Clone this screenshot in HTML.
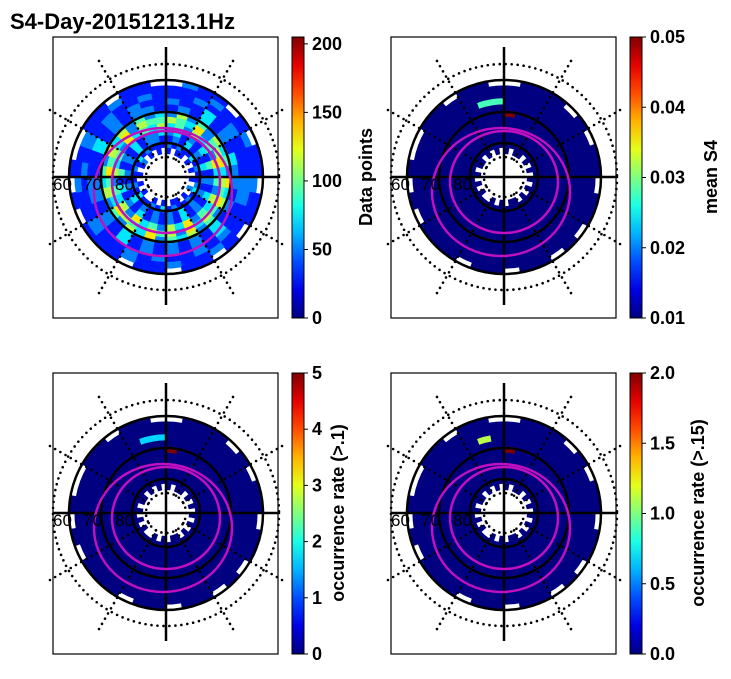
<!DOCTYPE html>
<html><head><meta charset="utf-8">
<style>
body{margin:0;background:#fff;width:731px;height:674px;overflow:hidden;font-family:"Liberation Sans",sans-serif}
svg text{font-family:"Liberation Sans",sans-serif}
</style></head>
<body>
<svg id="fig" width="731" height="674" xmlns="http://www.w3.org/2000/svg">
<text x="10" y="29" font-size="22" font-weight="bold">S4-Day-20151213.1Hz</text>
</svg>
<script>
// ring data for panel 1 (index 0 = innermost ring), 36 sectors clockwise from top; digit = colour level 0-9, '.' = no data
const ringsDataPoints = [
"1.11.1.1.1.2.1.11.1.1..1.1.1.12.1.1.",
"212113121123121121312113121121312111",
"121312131212121312121213121212131221",
"231213141213121312121312131412131223",
"342534263425342635243625342534263435",
"543624563546453625463456354645362544",
"252425342635242534263524253426352423",
"121312132212131212121312122113121221",
"211312111221131212121312122113121211",
"112112111221121211212112111212121121",
"111211211211112112112112112112112111",
".211.1.11.11.1.11.11.111.1.1..11.11."
];
// highlight cells for panels 2-4: [ring, sector, level]
const hlMeanS4 = [[8,34,4],[8,35,4],[6,0,9]];
const hlOcc1 = [[8,34,3],[8,35,3],[6,0,9]];
const hlOcc15 = [[8,34,5],[6,0,9]];
const cbTicks1 = [0,50,100,150,200], cbMax1 = 205;
const cbTicks2 = ["0.01","0.02","0.03","0.04","0.05"];
const cbTicks3 = ["0","1","2","3","4","5"];
const cbTicks4 = ["0.0","0.5","1.0","1.5","2.0"];

const NS="http://www.w3.org/2000/svg";
const svg=document.getElementById('fig');
function mk(t,a,p){const e=document.createElementNS(NS,t);for(const k in a)e.setAttribute(k,a[k]);(p||svg).appendChild(e);return e;}
function jet(v){v=Math.max(0,Math.min(1,v));
 const r=Math.min(1,Math.max(0,Math.min(4*v-1.5,-4*v+4.5)));
 const g=Math.min(1,Math.max(0,Math.min(4*v-0.5,-4*v+3.5)));
 const b=Math.min(1,Math.max(0,Math.min(4*v+0.5,-4*v+2.5)));
 return `rgb(${Math.round(r*255)},${Math.round(g*255)},${Math.round(b*255)})`;}
const R0=23, RW=6.2;
function sectorPath(cx,cy,r1,r2,a1,a2){
 const p=(r,a)=>[cx+r*Math.sin(a),cy-r*Math.cos(a)];
 const [x1,y1]=p(r1,a1),[x2,y2]=p(r2,a1),[x3,y3]=p(r2,a2),[x4,y4]=p(r1,a2);
 return `M${x1},${y1}L${x2},${y2}A${r2},${r2} 0 0 1 ${x3},${y3}L${x4},${y4}A${r1},${r1} 0 0 0 ${x1},${y1}Z`;}
const DOT={fill:'none',stroke:'#000','stroke-width':2.6,'stroke-dasharray':'0 6','stroke-linecap':'round'};
function panel(px,py,mode,hl,name,cbx,ticks,tickPos,label,labelX){
 const g=mk('g',{});
 
 
 const cx=px+113, cy=py+140;
 const hm=mk('g',{},g);
 
 
 const hmap={};(hl||[]).forEach(h=>hmap[h[0]+'_'+h[1]]=h[2]);
 ringsDataPoints.forEach((s,ri)=>{
  for(let si=0;si<36;si++){
   const c=s.charAt(si); if(c===''||c==='.')continue;
   let lvl=mode?0:+c; const k=ri+'_'+si; if(mode&&k in hmap)lvl=hmap[k];
   const a1=si*Math.PI/18,a2=(si+1)*Math.PI/18+0.01;
   const col=mode?(lvl===0?jet(0):jet(lvl/9)):jet(0.05+lvl*0.1);
   const e=mk('path',{d:sectorPath(cx,cy,R0+ri*RW,R0+(ri+1)*RW+0.4,a1,a2),fill:col},hm);
   
   
  }});
 [20,113].forEach(r=>mk('circle',Object.assign({cx,cy,r},DOT),g));
 for(let i=0;i<12;i++){const a=i*Math.PI/6;if(i%3===0)continue;
  mk('line',Object.assign({x1:cx+20*Math.sin(a),y1:cy-20*Math.cos(a),x2:cx+138*Math.sin(a),y2:cy-138*Math.cos(a)},DOT),g);}
 [34,65,97].forEach(r=>mk('circle',{cx,cy,r,fill:'none',stroke:'#000','stroke-width':2.5},g));
 mk('line',{x1:cx,y1:py+10,x2:cx,y2:py+268,stroke:'#000','stroke-width':2.5},g);
 mk('line',{x1:px,y1:cy,x2:px+225,y2:cy,stroke:'#000','stroke-width':2.5},g);
 mk('ellipse',{cx:cx-3,cy:cy+15,rx:69,ry:64,fill:'none',stroke:'#c010c0','stroke-width':2.5},g);
 mk('ellipse',{cx:cx,cy:cy+5,rx:54,ry:51,fill:'none',stroke:'#c010c0','stroke-width':2.5},g);
 [['60',px],['70',px+30],['80',px+62]].forEach(t=>{const e=mk('text',{x:t[1],y:cy+13,'font-size':17},g);e.textContent=t[0];});
 mk('rect',{x:px,y:py,width:225,height:281,fill:'none',stroke:'#000','stroke-width':1.2},g);
 const defsId='grad'+name;
 const d=mk('defs',{},g);const lg=mk('linearGradient',{id:defsId,x1:0,y1:1,x2:0,y2:0},d);
 for(let i=0;i<=10;i++)mk('stop',{offset:i/10,'stop-color':jet(i/10)},lg);
 const cb=mk('rect',{x:cbx,y:py,width:12,height:281,fill:`url(#${defsId})`,stroke:'#000','stroke-width':1},g);
 
 
 ticks.forEach((t,i)=>{const y=py+281-tickPos(i)*281;
  mk('line',{x1:cbx+12,y1:y,x2:cbx+16,y2:y,stroke:'#000'},g);
  const e=mk('text',{x:cbx+20,y:y+6,'font-size':18,'font-weight':'bold'},g);e.textContent=t;
  
  });
 const lb=mk('text',{x:labelX,y:py+140,'font-size':18,'font-weight':'bold','text-anchor':'middle',transform:`rotate(-90 ${labelX} ${py+140})`},g);
 lb.textContent=label;
 
 
}
panel(53,37,0,null,'panel-data-points',292,cbTicks1,i=>cbTicks1[i]/cbMax1,'Data points',372);
panel(391,37,1,hlMeanS4,'panel-mean-s4',630,cbTicks2,i=>i/4,'mean S4',717);
panel(53,373,1,hlOcc1,'panel-occurrence-01',292,cbTicks3,i=>i/5,'occurrence rate (>.1)',344);
panel(391,373,1,hlOcc15,'panel-occurrence-015',630,cbTicks4,i=>i/4,'occurrence rate (>.15)',704);
</script>
</body></html>
